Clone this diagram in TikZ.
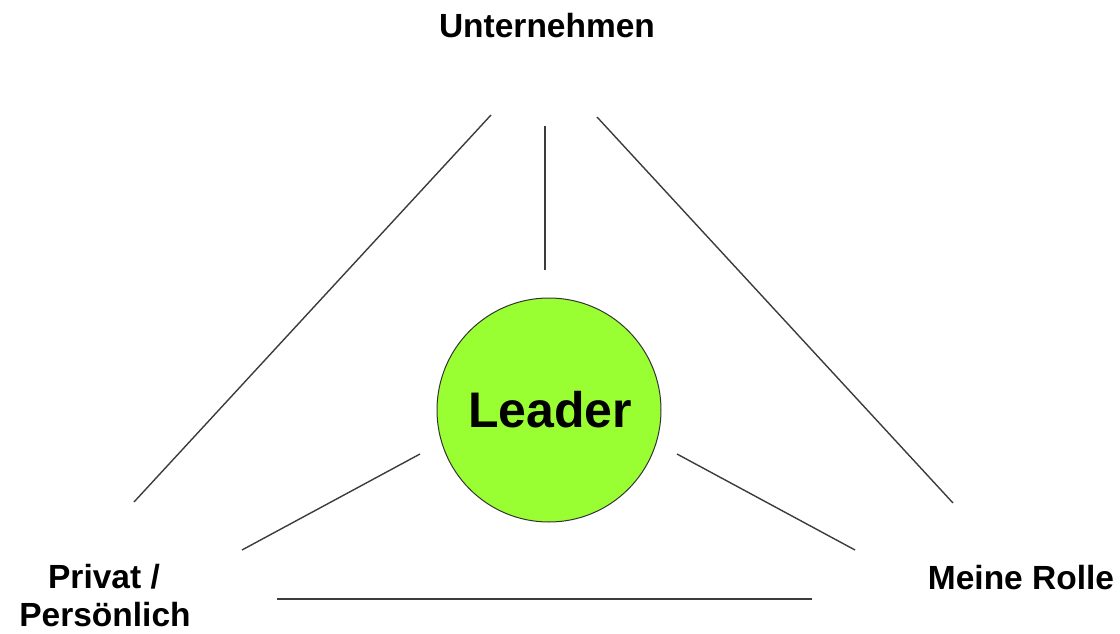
\documentclass[tikz,border=0pt]{standalone}
\usepackage{fontspec}
\setmainfont{Liberation Sans}
\definecolor{leadergreen}{RGB}{153,255,51}
\definecolor{linegrey}{RGB}{60,60,60}
\begin{document}
\begin{tikzpicture}[x=1pt,y=-1pt,
  label/.style={font=\fontsize{33.5}{38}\selectfont\bfseries, inner sep=0pt, anchor=base},
  link/.style={draw=linegrey, line width=1.4pt},
  leader/.style={circle, draw=black!80, line width=1pt, fill=leadergreen, minimum size=224pt, inner sep=0pt}]
\useasboundingbox (0,0) rectangle (1120,634);
% text nodes
\node[label] (unternehmen) at (547,38) {Unternehmen};
\node[label] (privat) at (104,588) {Privat /};
\node[label] (persoenlich) at (105,626) {Persönlich};
\node[label] (rolle) at (1021,589) {Meine Rolle};
\node[leader] (leader) at (549,410) {};
\node[font=\fontsize{50}{56}\selectfont\bfseries, inner sep=0pt, anchor=base] (leadertext) at (550,427) {Leader};
% line end points
\coordinate (l1a) at (491,115); \coordinate (l1b) at (134,502);
\coordinate (v1a) at (545,126); \coordinate (v1b) at (545,270);
\coordinate (r1a) at (597,117); \coordinate (r1b) at (953,503);
\coordinate (ls1a) at (420,454); \coordinate (ls1b) at (242,550);
\coordinate (rs1a) at (677,454); \coordinate (rs1b) at (855,550);
\coordinate (b1a) at (277,599); \coordinate (b1b) at (812,599);
\draw[link] (l1a) -- (l1b);
\draw[link] (v1a) -- (v1b);
\draw[link] (r1a) -- (r1b);
\draw[link] (ls1a) -- (ls1b);
\draw[link] (rs1a) -- (rs1b);
\draw[link] (b1a) -- (b1b);
\end{tikzpicture}
\end{document}
